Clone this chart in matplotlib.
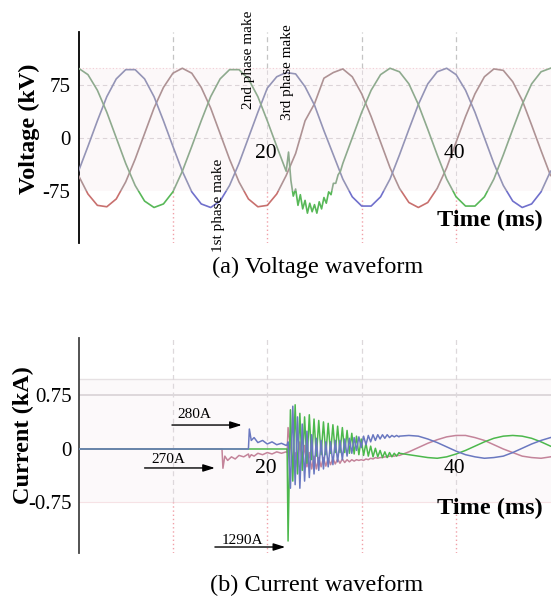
import numpy as np
import matplotlib
matplotlib.use("Agg")
import matplotlib.pyplot as plt
from matplotlib.patches import Rectangle

plt.rcParams['font.family'] = ['Liberation Serif', 'DejaVu Serif']

# ---------------- data ----------------
# Voltage waveforms (kV), sampled every 1 ms
t_v = list(range(0, 51))
v_blue = [-47, -12, 24, 58, 83, 96, 96, 83, 58, 24, -12, -47, -76, -93, -98, -89, -67,
          -36, 0, 36, 70, 86, 92, 90, 72, 46, 10, -24, -58, -83, -96, -96, -83, -58,
          -24, 12, 47, 76, 93, 98, 89, 67, 36, 0, -36, -67, -89, -98, -93, -76, -47]
v_red = [-53, -79, -95, -97, -86, -62, -30, 6, 42, 71, 91, 98, 91, 71, 42, 6, -30, -62,
         -86, -97, -95, -79, -53, -22, 24, 48, 84, 92, 97, 86, 62, 30, -6, -42, -71, -91,
         -98, -91, -71, -42, -6, 30, 62, 86, 97, 95, 79, 53, 18, -18, -53]
# green phase: finer sampling around the 3rd phase make
t_vg = (list(range(0, 23))
        + [22.25, 22.5, 22.75, 23.0, 23.25, 23.5, 23.75, 24.0, 24.25, 24.5, 24.75, 25.0,
           25.25, 25.5, 25.75, 26.0, 26.25, 26.5, 26.75, 27.0, 27.25, 27.5, 27.75, 28.0]
        + list(range(29, 51)))
v_green = ([98, 89, 67, 36, 0, -36, -67, -89, -98, -93, -76, -47, -12, 24, 58, 83, 96, 96,
            83, 58, 24, -12, -47]
           + [-20, -60, -82, -72, -95, -80, -100, -88, -106, -92, -104, -94, -106, -90,
              -100, -84, -92, -76, -80, -64, -64, -52, -47, -36]
           + [0, 36, 67, 89, 98, 93, 76, 47, 12, -24, -58, -83, -96, -96, -83, -58, -24,
              12, 47, 76, 93, 98])

# Current waveforms (kA)
t_i_pre = [0, 15.2, 15.3, 15.5, 15.8, 16.2, 16.6, 17.0, 17.5, 18.0, 18.1, 18.3, 18.6,
           19.0, 19.5, 20.0, 20.5, 21.0, 21.5, 22.0, 22.1]
t_i_tr = [22.2, 22.45, 22.7, 22.95, 23.2, 23.45, 23.7, 23.95, 24.2, 24.45, 24.7, 24.95,
          25.2, 25.45, 25.7, 25.95, 26.2, 26.45, 26.7, 26.95, 27.2, 27.45, 27.7, 27.95,
          28.2, 28.45, 28.7, 28.95, 29.2, 29.45, 29.7, 29.95, 30.2, 30.45, 30.7, 30.95,
          31.2, 31.45, 31.7, 31.95, 32.2, 32.45, 32.7, 32.95, 33.2, 33.45, 33.7, 33.95]
t_i_ss = list(range(34, 51))

i_red = ([0, 0, -0.27, -0.10, -0.16, -0.11, -0.14, -0.09, -0.11, -0.07, -0.12, -0.08,
          -0.10, -0.06, -0.08, -0.05, -0.07, -0.04, -0.06, -0.04, -0.05]
         + [0.30, 0.05, -0.20, -0.05, -0.25, 0.10, -0.20, 0.05, -0.25, -0.05, -0.28, -0.10,
            -0.28, -0.12, -0.25, -0.12, -0.24, -0.13, -0.22, -0.13, -0.21, -0.14, -0.20,
            -0.14, -0.19, -0.15, -0.18, -0.15, -0.17, -0.15, -0.16, -0.15, -0.16, -0.14,
            -0.15, -0.13, -0.14, -0.12, -0.13, -0.12, -0.12, -0.11, -0.11, -0.10, -0.10,
            -0.10, -0.09, -0.09]
         + [-0.09, -0.04, 0.02, 0.08, 0.13, 0.17, 0.19, 0.19, 0.16, 0.12, 0.06, 0.00,
            -0.05, -0.10, -0.12, -0.13, -0.11])
i_blue = ([0, 0, 0, 0, 0, 0, 0, 0, 0, 0, 0.28, 0.12, 0.16, 0.09, 0.12, 0.07, 0.10, 0.06,
           0.08, 0.05, 0.06]
          + [0.10, -0.55, 0.60, -0.50, 0.45, -0.55, 0.35, -0.45, 0.25, -0.40, 0.20, -0.35,
             0.15, -0.30, 0.12, -0.28, 0.10, -0.25, 0.10, -0.22, 0.12, -0.18, 0.12, -0.15,
             0.14, -0.10, 0.15, -0.06, 0.16, -0.02, 0.17, 0.02, 0.18, 0.06, 0.19, 0.10,
             0.20, 0.12, 0.20, 0.14, 0.20, 0.15, 0.20, 0.16, 0.19, 0.17, 0.19, 0.17]
          + [0.18, 0.19, 0.18, 0.14, 0.09, 0.03, -0.03, -0.08, -0.11, -0.13, -0.12, -0.10,
             -0.05, 0.01, 0.07, 0.12, 0.16])
i_green = ([0] * 21
           + [-1.29, 0.55, -0.45, 0.62, -0.35, 0.50, -0.30, 0.45, -0.20, 0.48, -0.15, 0.42,
              -0.10, 0.40, -0.08, 0.38, -0.08, 0.36, -0.06, 0.34, -0.05, 0.32, -0.05, 0.30,
              -0.05, 0.26, -0.06, 0.22, -0.07, 0.18, -0.08, 0.14, -0.09, 0.08, -0.10, 0.04,
              -0.11, 0.01, -0.11, -0.02, -0.12, -0.04, -0.12, -0.05, -0.11, -0.06, -0.10,
              -0.05]
           + [-0.06, -0.08, -0.10, -0.12, -0.13, -0.11, -0.07, -0.02, 0.04, 0.10, 0.15,
              0.18, 0.19, 0.18, 0.15, 0.10, 0.04])
t_i = t_i_pre + t_i_tr + t_i_ss

grid_t = [10, 20, 30, 40]
x_tick_vals = [20, 40]
v_ticks = [-75, 0, 75]
v_tick_labels = ['-75', '0', '75']
i_ticks = [-0.75, 0, 0.75]
i_tick_labels = ['-0.75', '0', '0.75']

make_labels = ['1st phase make', '2nd phase make', '3rd phase make']
make_pos = [(14.8, -95), (18.0, 110), (22.15, 93)]
ann_labels = ['280A', '270A', '1290A']
ann_arrows = [((9.9, 0.336), (17.3, 0.336)),
              ((7.0, -0.266), (14.45, -0.266)),
              ((14.45, -1.374), (21.9, -1.374))]
ann_text = [(10.5, 0.477), (7.7, -0.154), (15.2, -1.276)]

# ---------------- figure ----------------
W, H = 556, 599
fig = plt.figure(figsize=(W / 100, H / 100), dpi=100)
left = 78.5 / W
width = (550.5 - 78.5) / W
axv = fig.add_axes([left, 1 - 243 / H, width, 211 / H])
axi = fig.add_axes([left, 1 - 553 / H, width, 215 / H])

full_col = {'red': '#c8706e', 'green': '#58b858', 'blue': '#7070cc'}
band_col = {'red': '#ae9294', 'green': '#8eaa8e', 'blue': '#9494b6'}

# ---- voltage ----
ax = axv
ax.set_xlim(0, 50)
ax.set_ylim(-148, 149)
BAND_TOP_V = 99
ax.axhspan(-75, BAND_TOP_V, color='#fcf8f9', zorder=0, lw=0)
for y in [75, 0]:
    ax.axhline(y, color='#dcd4d8', lw=0.8, ls=(0, (4, 3)), zorder=1)
ax.axhline(BAND_TOP_V, color='#f2cdd4', lw=0.8, ls=(0, (1, 2)), zorder=1)
for g in grid_t:
    ax.vlines(g, -75, BAND_TOP_V, color='#dcd6da', lw=0.8, ls=(0, (4, 3)), zorder=1)
    ax.vlines(g, BAND_TOP_V, 149, color='#c4c4c4', lw=0.9, ls=(0, (4, 3)), zorder=1)
    ax.vlines(g, -148, -75, color='#f0a0a8', lw=1.0, ls=(0, (1, 2)), zorder=1)

series_v = [('red', t_v, v_red), ('blue', t_v, v_blue), ('green', t_vg, v_green)]
for name, tt, vv in series_v:
    l1, = ax.plot(tt, vv, color=band_col[name], lw=1.2, zorder=3)
    l1.set_clip_path(Rectangle((0, -75), 50, 300, transform=ax.transData))
    l2, = ax.plot(tt, vv, color=full_col[name], lw=1.2, zorder=3)
    l2.set_clip_path(Rectangle((0, -200), 50, 125, transform=ax.transData))

ax.set_yticks(v_ticks)
ax.set_yticklabels(v_tick_labels)
ax.set_xticks([])
ax.tick_params(axis='y', length=0, pad=6, labelsize=15)
for s in ['top', 'right', 'bottom']:
    ax.spines[s].set_visible(False)
ax.spines['left'].set_color('black')
ax.spines['left'].set_linewidth(1.3)
ax.patch.set_alpha(0)
for xv in x_tick_vals:
    ax.text(xv - 0.2, -21.5, str(xv), ha='center', va='center', fontsize=15.5)
ax.text(43.6, -115.8, 'Time (ms)', ha='center', va='center', fontsize=17.5,
        fontweight='bold')
for lab, (px, py) in zip(make_labels, make_pos):
    ax.text(px, py, lab, rotation=90, ha='center', va='center', fontsize=11,
            clip_on=False)

# ---- current ----
ax = axi
ax.set_xlim(0, 50)
ax.set_ylim(-1.458, 1.556)
BAND_TOP_I = 0.98
ax.axhspan(-0.75, BAND_TOP_I, color='#fcf9fa', zorder=0, lw=0)
ax.axhline(BAND_TOP_I, color='#e6e1e3', lw=1.0, zorder=1)
ax.axhline(0.75, color='#d8d2d5', lw=1.2, zorder=1)
ax.axhline(-0.75, color='#f6e2e5', lw=0.8, zorder=1)
for g in grid_t:
    ax.vlines(g, -0.75, 1.556, color='#ddd8db', lw=0.9, ls=(0, (4, 3)), zorder=1)
    ax.vlines(g, -1.458, -0.75, color='#f0a0a8', lw=1.0, ls=(0, (1, 2)), zorder=1)

ax.plot(t_i, i_red, color='#c4849a', lw=1.1, zorder=3)
ax.plot(t_i, i_green, color='#4cb84c', lw=1.1, zorder=3)
ax.plot(t_i, i_blue, color='#6a78c0', lw=1.1, zorder=3)

ax.set_yticks(i_ticks)
ax.set_yticklabels(i_tick_labels)
ax.set_xticks([])
ax.tick_params(axis='y', length=0, pad=5, labelsize=15)
for s in ['top', 'right', 'bottom']:
    ax.spines[s].set_visible(False)
ax.spines['left'].set_color('#444444')
ax.spines['left'].set_linewidth(1.3)
ax.patch.set_alpha(0)
for xv in x_tick_vals:
    ax.text(xv - 0.2, -0.27, str(xv), ha='center', va='center', fontsize=15.5)
ax.text(43.6, -0.83, 'Time (ms)', ha='center', va='center', fontsize=17.5,
        fontweight='bold')
for lab, (a0, a1), (tx, ty) in zip(ann_labels, ann_arrows, ann_text):
    ax.annotate('', xy=a1, xytext=a0,
                arrowprops=dict(arrowstyle='-|>,head_length=0.7,head_width=0.22',
                                color='black', lw=1.0, shrinkA=0, shrinkB=0),
                annotation_clip=False)
    ax.text(tx, ty, lab, ha='left', va='center', fontsize=11)

# ---- labels & captions ----
fig.text(29 / W, 1 - 128.5 / H, 'Voltage (kV)', rotation=90, ha='center', va='center',
         fontsize=17.5, fontweight='bold')
fig.text(23 / W, 1 - 435 / H, 'Current (kA)', rotation=90, ha='center', va='center',
         fontsize=17.5, fontweight='bold')
fig.text(318 / W, 1 - 267 / H, '(a) Voltage waveform', ha='center', va='center',
         fontsize=17.5)
fig.text(316.5 / W, 1 - 585 / H, '(b) Current waveform', ha='center', va='center',
         fontsize=17.5)

fig.savefig('out.png', dpi=100, facecolor='white')
